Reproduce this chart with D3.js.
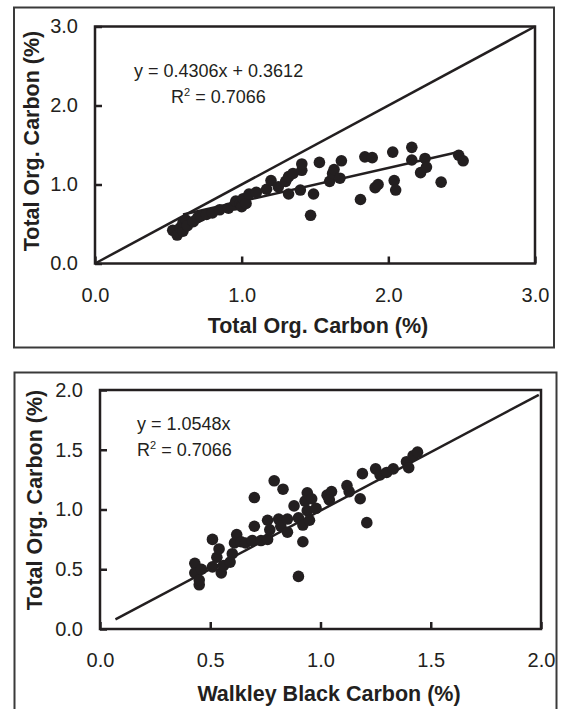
<!DOCTYPE html>
<html>
<head>
<meta charset="utf-8">
<script src="https://cdn.jsdelivr.net/npm/d3@7"></script>
<style>
  body { margin: 0; background: #fff; }
  svg { display: block; font-family: "Liberation Sans", Arial, Helvetica, sans-serif; }
  .tick text { fill: #231f20; }
</style>
</head>
<body>
<svg id="chart" width="563" height="709"></svg>
<script>
// top panel: TOC vs TOC (1:1 line plus linear fit)
const topX = [0.53, 0.56, 0.58, 0.60, 0.60, 0.62, 0.63, 0.67, 0.70, 0.72, 0.76, 0.80, 0.85, 0.91,
  0.95, 0.96, 0.99, 1.00, 1.01, 1.03, 1.05, 1.10, 1.17, 1.20, 1.25, 1.30, 1.32, 1.32, 1.35, 1.40,
  1.41, 1.41, 1.47, 1.49, 1.53, 1.60, 1.62, 1.63, 1.67, 1.68, 1.81, 1.84, 1.89, 1.91, 1.93, 2.03,
  2.04, 2.05, 2.16, 2.16, 2.22, 2.25, 2.26, 2.36, 2.48, 2.51];
const topY = [0.42, 0.36, 0.45, 0.41, 0.52, 0.55, 0.48, 0.53, 0.58, 0.60, 0.62, 0.64, 0.68, 0.70,
  0.74, 0.79, 0.76, 0.72, 0.82, 0.76, 0.88, 0.90, 0.94, 1.05, 0.97, 1.04, 0.88, 1.10, 1.14, 0.93,
  1.18, 1.26, 0.61, 0.88, 1.28, 1.04, 1.14, 1.19, 1.08, 1.30, 0.81, 1.35, 1.34, 0.96, 1.00, 1.41,
  1.05, 0.93, 1.47, 1.31, 1.15, 1.33, 1.22, 1.03, 1.37, 1.30];
const topDiagX = [0, 3];
const topDiagY = [0, 3];
const topFitX = [0.60, 2.50];
const topFitY = [0.62, 1.42];
const topTicks = [0, 1, 2, 3];

// bottom panel: TOC vs Walkley Black carbon
const botX = [0.43, 0.43, 0.45, 0.45, 0.46, 0.51, 0.51, 0.53, 0.54, 0.55, 0.56, 0.59, 0.60, 0.61,
  0.62, 0.64, 0.66, 0.69, 0.70, 0.70, 0.73, 0.76, 0.76, 0.77, 0.79, 0.81, 0.82, 0.83, 0.85, 0.85,
  0.88, 0.90, 0.90, 0.92, 0.92, 0.93, 0.94, 0.94, 0.95, 0.96, 0.98, 1.03, 1.05, 1.04, 1.12, 1.13,
  1.18, 1.19, 1.21, 1.25, 1.27, 1.30, 1.33, 1.39, 1.40, 1.42, 1.44];
const botY = [0.55, 0.47, 0.37, 0.41, 0.50, 0.52, 0.75, 0.60, 0.67, 0.47, 0.53, 0.56, 0.63, 0.72,
  0.79, 0.73, 0.72, 0.74, 0.86, 1.10, 0.74, 0.75, 0.91, 0.83, 1.24, 0.92, 0.86, 1.17, 0.92, 0.81,
  1.03, 0.93, 0.44, 0.73, 0.87, 1.07, 1.14, 0.99, 0.91, 1.09, 1.01, 1.12, 1.15, 1.08, 1.20, 1.15,
  1.09, 1.30, 0.89, 1.34, 1.29, 1.31, 1.34, 1.40, 1.35, 1.45, 1.48];
const botFitX = [0.07, 1.99];
const botFitY = [0.08, 1.96];
const botTicks = [0, 0.5, 1, 1.5, 2];

const ink = "#231f20";
const svg = d3.select("#chart");
const fmt = d3.format(".1f");

function drawPanel(p) {
  // outer box around the panel
  svg.append("rect")
    .attr("x", p.box[0]).attr("y", p.box[1])
    .attr("width", p.box[2]).attr("height", p.box[3])
    .attr("fill", "none").attr("stroke", "#3a3a3a").attr("stroke-width", 2);

  const x = d3.scaleLinear().domain(p.domain).range([p.left, p.right]);
  const y = d3.scaleLinear().domain(p.domain).range([p.bottom, p.top]);
  const g = svg.append("g");

  const yAxis = g.append("g")
    .attr("transform", `translate(${p.left},0)`)
    .call(d3.axisLeft(y).tickValues(p.ticks).tickFormat(fmt)
      .tickSizeInner(-7).tickSizeOuter(0).tickPadding(17));
  const xAxis = g.append("g")
    .attr("transform", `translate(0,${p.bottom})`)
    .call(d3.axisBottom(x).tickValues(p.ticks).tickFormat(fmt)
      .tickSizeInner(-7).tickSizeOuter(0).tickPadding(24));
  [xAxis, yAxis].forEach(a => {
    a.select(".domain").remove();
    a.selectAll("line").attr("stroke", ink).attr("stroke-width", 2.5);
    a.selectAll("text").attr("font-size", 20).attr("font-family", null);
  });

  // plot frame
  g.append("rect")
    .attr("x", p.left).attr("y", p.top)
    .attr("width", p.right - p.left).attr("height", p.bottom - p.top)
    .attr("fill", "none").attr("stroke", ink).attr("stroke-width", 2.5);

  const line = d3.line().x(d => x(d[0])).y(d => y(d[1]));
  p.lines.forEach(([lx, ly]) => {
    g.append("path")
      .attr("d", line(d3.zip(lx, ly)))
      .attr("fill", "none").attr("stroke", ink).attr("stroke-width", 2.5);
  });

  g.append("g").selectAll("circle")
    .data(d3.zip(p.xs, p.ys))
    .join("circle")
    .attr("cx", d => x(d[0])).attr("cy", d => y(d[1]))
    .attr("r", 5.8).attr("fill", ink);

  // equation text
  const eq = g.append("g").attr("fill", ink).attr("font-size", 18);
  eq.append("text").attr("x", p.eq1[0]).attr("y", p.eq1[1]).text(p.eqText);
  const r2 = eq.append("text").attr("x", p.eq2[0]).attr("y", p.eq2[1]);
  r2.append("tspan").text("R");
  r2.append("tspan").attr("dy", -7).attr("font-size", 11).text("2");
  r2.append("tspan").attr("dy", 7).text(" = 0.7066");

  // axis titles
  g.append("text")
    .attr("x", p.xTitle[0]).attr("y", p.xTitle[1])
    .attr("text-anchor", "middle").attr("font-size", 21.5).attr("font-weight", "bold")
    .attr("fill", ink).text(p.xLabel);
  g.append("text")
    .attr("transform", `translate(${p.yTitle[0]},${p.yTitle[1]}) rotate(-90)`)
    .attr("text-anchor", "middle").attr("font-size", 21.5).attr("font-weight", "bold")
    .attr("fill", ink).text("Total Org. Carbon (%)");
}

drawPanel({
  box: [14, 7.5, 540, 340],
  left: 95, right: 535, top: 26.5, bottom: 263.5,
  domain: [0, 3], ticks: topTicks,
  xs: topX, ys: topY,
  lines: [[topDiagX, topDiagY], [topFitX, topFitY]],
  eqText: "y = 0.4306x + 0.3612", eq1: [134, 77], eq2: [171, 103],
  xLabel: "Total Org. Carbon (%)", xTitle: [318, 333], yTitle: [39, 141]
});

drawPanel({
  box: [14.5, 372.5, 542, 350],
  left: 100, right: 541, top: 390, bottom: 629,
  domain: [0, 2], ticks: botTicks,
  xs: botX, ys: botY,
  lines: [[botFitX, botFitY]],
  eqText: "y = 1.0548x", eq1: [137, 430], eq2: [137, 456],
  xLabel: "Walkley Black Carbon (%)", xTitle: [329, 701], yTitle: [42, 500]
});
</script>
</body>
</html>
